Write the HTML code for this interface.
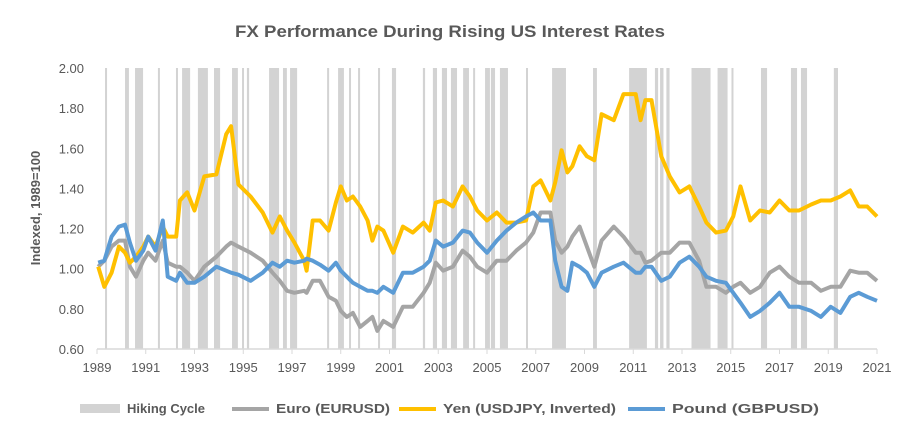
<!DOCTYPE html>
<html><head><meta charset="utf-8"><style>
body{margin:0;background:#fff;width:900px;height:437px;overflow:hidden;font-family:"Liberation Sans",sans-serif}
text{font-family:"Liberation Sans",sans-serif}
</style></head><body>
<svg id="chart" width="900" height="437">
<text x="450" y="37" text-anchor="middle" font-size="17" font-weight="bold" fill="#595959" textLength="430" lengthAdjust="spacingAndGlyphs">FX Performance During Rising US Interest Rates</text>
<text transform="translate(40,208) rotate(-90)" text-anchor="middle" font-size="13" font-weight="bold" fill="#595959">Indexed, 1989=100</text>
<g id="bands"></g><g id="axes"></g><g id="lines"></g>
<g>
<g><rect x="80" y="404" width="40" height="9" fill="#d3d3d3"/><text x="127" y="413" font-size="13" font-weight="bold" fill="#595959" textLength="78" lengthAdjust="spacingAndGlyphs">Hiking Cycle</text></g>
<g><line x1="232" y1="409" x2="269" y2="409" stroke="#a5a5a5" stroke-width="4"/><text x="276" y="413" font-size="13" font-weight="bold" fill="#595959" textLength="114" lengthAdjust="spacingAndGlyphs">Euro (EURUSD)</text></g>
<g><line x1="399" y1="409" x2="436" y2="409" stroke="#ffc000" stroke-width="4"/><text x="443" y="413" font-size="13" font-weight="bold" fill="#595959" textLength="173" lengthAdjust="spacingAndGlyphs">Yen (USDJPY, Inverted)</text></g>
<g><line x1="628" y1="409" x2="665" y2="409" stroke="#5b9bd5" stroke-width="4"/><text x="672" y="413" font-size="13" font-weight="bold" fill="#595959" textLength="147" lengthAdjust="spacingAndGlyphs">Pound (GBPUSD)</text></g>
</g>
</svg>
<script>
const years=[1989.05,1989.3,1989.6,1989.9,1990.15,1990.35,1990.6,1990.9,1991.1,1991.4,1991.7,1991.9,1992.25,1992.4,1992.7,1993.0,1993.4,1993.9,1994.3,1994.5,1994.8,1995.3,1995.8,1996.2,1996.5,1996.8,1997.1,1997.5,1997.6,1997.85,1998.15,1998.5,1998.8,1999.0,1999.25,1999.5,1999.8,2000.1,2000.3,2000.5,2000.75,2001.15,2001.55,2001.95,2002.4,2002.65,2002.9,2003.2,2003.6,2004.0,2004.3,2004.6,2005.0,2005.4,2005.8,2006.2,2006.6,2006.9,2007.2,2007.6,2007.8,2008.06,2008.3,2008.5,2008.8,2009.1,2009.4,2009.7,2010.2,2010.6,2011.1,2011.3,2011.5,2011.75,2012.15,2012.5,2012.9,2013.3,2013.7,2014.0,2014.4,2014.8,2015.1,2015.4,2015.8,2016.2,2016.6,2017.0,2017.4,2017.8,2018.3,2018.7,2019.1,2019.5,2019.9,2020.25,2020.6,2021.0];
const yen=[1.01,0.91,0.98,1.11,1.08,1.03,1.06,1.11,1.16,1.11,1.21,1.16,1.16,1.34,1.38,1.29,1.46,1.47,1.67,1.71,1.42,1.36,1.28,1.18,1.26,1.19,1.13,1.04,0.99,1.24,1.24,1.19,1.33,1.41,1.34,1.36,1.31,1.24,1.14,1.21,1.19,1.08,1.21,1.18,1.23,1.19,1.33,1.34,1.31,1.41,1.36,1.29,1.24,1.28,1.23,1.23,1.24,1.41,1.44,1.34,1.43,1.59,1.48,1.51,1.61,1.56,1.54,1.77,1.74,1.87,1.87,1.74,1.84,1.84,1.56,1.46,1.38,1.41,1.31,1.23,1.18,1.19,1.26,1.41,1.24,1.29,1.28,1.34,1.29,1.29,1.32,1.34,1.34,1.36,1.39,1.31,1.31,1.26];
const euro=[1.01,1.04,1.11,1.14,1.14,1.01,0.96,1.04,1.08,1.04,1.14,1.03,1.01,1.01,0.98,0.94,1.01,1.06,1.11,1.13,1.11,1.08,1.04,0.98,0.94,0.89,0.88,0.89,0.88,0.94,0.94,0.86,0.84,0.79,0.76,0.78,0.71,0.74,0.76,0.69,0.74,0.71,0.81,0.81,0.88,0.93,1.03,0.99,1.01,1.09,1.06,1.01,0.98,1.04,1.04,1.09,1.13,1.18,1.28,1.28,1.14,1.08,1.11,1.16,1.21,1.11,1.01,1.14,1.21,1.16,1.08,1.08,1.03,1.04,1.08,1.08,1.13,1.13,1.04,0.91,0.91,0.88,0.91,0.93,0.88,0.91,0.98,1.01,0.96,0.93,0.93,0.89,0.91,0.91,0.99,0.98,0.98,0.94];
const pound=[1.03,1.04,1.16,1.21,1.22,1.13,1.04,1.09,1.16,1.09,1.24,0.96,0.94,0.98,0.93,0.93,0.96,1.01,0.99,0.98,0.97,0.94,0.98,1.03,1.01,1.04,1.03,1.04,1.05,1.04,1.02,0.99,1.03,0.99,0.96,0.93,0.91,0.89,0.89,0.88,0.91,0.88,0.98,0.98,1.01,1.04,1.14,1.11,1.13,1.19,1.18,1.13,1.08,1.14,1.19,1.23,1.26,1.28,1.24,1.24,1.04,0.91,0.89,1.03,1.01,0.98,0.91,0.98,1.01,1.03,0.98,0.98,1.01,1.01,0.94,0.96,1.03,1.06,1.01,0.96,0.94,0.93,0.88,0.83,0.76,0.79,0.83,0.88,0.81,0.81,0.79,0.76,0.81,0.78,0.86,0.88,0.86,0.84];
const bandStart=[1989.33,1990.15,1990.56,1991.50,1992.24,1992.49,1993.14,1993.80,1994.54,1994.95,1995.15,1996.06,1996.63,1996.92,1998.44,1998.89,1999.34,1999.71,2000.53,2001.10,2002.37,2002.78,2003.15,2003.52,2004.02,2004.43,2004.92,2005.16,2005.53,2006.60,2007.67,2009.35,2010.83,2011.89,2012.10,2012.36,2013.39,2014.46,2015.03,2016.24,2017.47,2017.88,2019.23];
const bandEnd=[1989.41,1990.31,1990.89,1991.54,1992.32,1992.82,1993.55,1994.05,1994.78,1994.99,1995.24,1996.47,1996.79,1997.21,1998.52,1999.13,1999.42,1999.79,2000.61,2001.27,2002.46,2002.95,2003.36,2003.77,2004.26,2004.51,2005.12,2005.33,2005.86,2006.68,2008.24,2009.51,2011.56,2012.02,2012.24,2012.49,2014.17,2014.87,2015.11,2016.49,2017.72,2018.13,2019.40];
const yTicks=[0.6,0.8,1.0,1.2,1.4,1.6,1.8,2.0];
const xTicks=[1989,1991,1993,1995,1997,1999,2001,2003,2005,2007,2009,2011,2013,2015,2017,2019,2021];
const X=y=>97+(y-1989)*24.375, Y=v=>349-(v-0.6)*(281/1.4);
const NS="http://www.w3.org/2000/svg";
function mk(t,a,p){const e=document.createElementNS(NS,t);for(const k in a)e.setAttribute(k,a[k]);p.appendChild(e);return e;}
const bg=document.getElementById('bands');
bandStart.forEach((s,i)=>{const x1=X(s),w=Math.max(2,X(bandEnd[i])-x1);
const r=mk('rect',{x:x1,y:Y(2.0),width:w,height:Y(0.6)-Y(2.0),fill:'#d3d3d3'},bg);

});
const ax=document.getElementById('axes');
yTicks.forEach(v=>{const t=mk('text',{x:84,y:Y(v)+5,'text-anchor':'end','font-size':13,fill:'#595959'},ax);t.textContent=v.toFixed(2);

});
const al=mk('line',{x1:97,y1:349,x2:877,y2:349,stroke:'#d9d9d9','stroke-width':1.5},ax);


xTicks.forEach(yr=>{mk('line',{x1:X(yr),y1:349,x2:X(yr),y2:354,stroke:'#d9d9d9'},ax);
const t=mk('text',{x:X(yr),y:372,'text-anchor':'middle','font-size':13,fill:'#595959'},ax);t.textContent=yr;

});
const lg=document.getElementById('lines');
[[euro,'#a5a5a5','euro-line'],[yen,'#ffc000','yen-line'],[pound,'#5b9bd5','pound-line']].forEach(([d,c,n])=>{
const pts=d.map((v,i)=>X(years[i]).toFixed(1)+','+Y(v).toFixed(1)).join(' ');
const p=mk('polyline',{points:pts,fill:'none',stroke:c,'stroke-width':4,'stroke-linejoin':'round'},lg);

});
</script>
</body></html>
